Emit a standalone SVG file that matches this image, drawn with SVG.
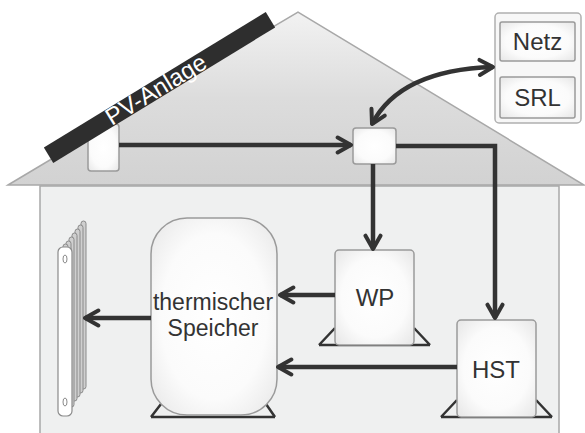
<svg xmlns="http://www.w3.org/2000/svg" width="585" height="433" viewBox="0 0 585 433">
  <defs>
    <linearGradient id="roofFill" x1="0" y1="0" x2="0" y2="1">
      <stop offset="0" stop-color="#f2f2f2"/>
      <stop offset="0.5" stop-color="#dcdcdc"/>
      <stop offset="1" stop-color="#d2d2d2"/>
    </linearGradient>
    <radialGradient id="boxFill" cx="0.5" cy="0.5" r="0.7">
      <stop offset="0" stop-color="#ffffff"/>
      <stop offset="0.6" stop-color="#fbfbfb"/>
      <stop offset="1" stop-color="#e6e6e6"/>
    </radialGradient>
    <marker id="chev" viewBox="0 0 12 12" refX="10.5" refY="6" markerWidth="20" markerHeight="20" markerUnits="userSpaceOnUse" orient="auto-start-reverse">
      <path d="M2.5,1.5 L10.5,6 L2.5,10.5" fill="none" stroke="#333" stroke-width="2.4" stroke-linecap="round" stroke-linejoin="round"/>
    </marker>
    <style>
      .box { fill: url(#boxFill); stroke: #9a9a9a; stroke-width: 1.5; }
      .foot { fill: none; stroke: #333; stroke-width: 2.5; stroke-linejoin: miter; }
      .wire { fill: none; stroke: #333; stroke-width: 4.5; }
      .lbl { font-family: "Liberation Sans", Arial, sans-serif; fill: #333; text-anchor: middle; font-size: 24px; }
      .plate { fill: #cfcfcf; stroke: #8a8a8a; stroke-width: 1; }
    </style>
  </defs>

  <!-- house body and roof -->
  <g id="house">
    <rect x="40" y="186" width="519" height="260" fill="#eff0f0" stroke="#a8a8a8" stroke-width="1.5"/>
    <polygon points="8,185 298,12 584,185" fill="url(#roofFill)" stroke="#a8a8a8" stroke-width="1.5"/>
  </g>

  <!-- PV inverter box under the panel -->
  <g id="pv-box">
    <rect class="box" x="88" y="124" width="31" height="47" rx="3"/>
  </g>

  <!-- PV panel -->
  <g id="pv-panel">
    <g transform="translate(159.5,87.5) rotate(-31.4)">
      <rect x="-130" y="-9" width="260" height="18" fill="#2e2e2e"/>
      <text class="lbl" x="-4" y="8" style="fill:#ffffff">PV-Anlage</text>
    </g>
  </g>

  <!-- grid / control reserve -->
  <g id="netz-srl">
    <rect x="495" y="13" width="86" height="110" rx="4" fill="#f7f7f7" stroke="#b0b0b0" stroke-width="1.5"/>
    <rect class="box" x="500" y="22" width="75" height="39" rx="2"/>
    <text class="lbl" x="537.5" y="50">Netz</text>
    <rect class="box" x="500" y="77" width="75" height="41" rx="2"/>
    <text class="lbl" x="537.5" y="106">SRL</text>
  </g>

  <!-- central distribution box -->
  <g id="verteiler">
    <rect class="box" x="353" y="128" width="43" height="36" rx="3"/>
  </g>

  <!-- heat pump -->
  <g id="wp">
    <path class="foot" d="M319,345 L335,328 M414,328 L430,345 M319,345 L430,345"/>
    <rect class="box" x="335" y="250" width="79" height="95" rx="4"/>
    <text class="lbl" x="375" y="306">WP</text>
  </g>

  <!-- electric heating element -->
  <g id="hst">
    <path class="foot" d="M441,417 L457,400 M536,400 L552,417 M441,417 L552,417"/>
    <rect class="box" x="457" y="320" width="79" height="97" rx="4"/>
    <text class="lbl" x="496" y="378">HST</text>
  </g>

  <!-- thermal storage -->
  <g id="speicher">
    <path class="foot" d="M151,417 L161,404 M266,404 L275,417 M151,417 L275,417"/>
    <rect class="box" x="151" y="218" width="126" height="197" rx="36"/>
    <text class="lbl" x="213" y="310" style="font-size:23px">thermischer</text>
    <text class="lbl" x="213" y="336" style="font-size:23px">Speicher</text>
  </g>

  <!-- radiator -->
  <g id="heizkoerper">
    <rect class="plate" x="81" y="221" width="5" height="168" rx="2.5"/>
    <rect class="plate" x="78" y="225" width="5" height="168" rx="2.5"/>
    <rect class="plate" x="75" y="229" width="5" height="168" rx="2.5"/>
    <rect class="plate" x="72" y="233" width="5" height="168" rx="2.5"/>
    <rect class="plate" x="69" y="237" width="5" height="170" rx="2.5"/>
    <rect class="plate" x="66" y="241" width="5" height="170" rx="2.5"/>
    <rect class="plate" x="63" y="244" width="5" height="170" rx="2.5"/>
    <rect x="58" y="247" width="14" height="169" rx="5" fill="#ffffff" stroke="#8a8a8a" stroke-width="1.2"/>
    <ellipse cx="65" cy="259" rx="2" ry="4" fill="none" stroke="#8a8a8a" stroke-width="1"/>
    <ellipse cx="65" cy="402" rx="2" ry="4" fill="none" stroke="#8a8a8a" stroke-width="1"/>
  </g>

  <!-- energy flows -->
  <g id="connectors">
    <path class="wire" d="M119,145 H351" marker-end="url(#chev)"/>
    <path class="wire" d="M373,164 V249" marker-end="url(#chev)"/>
    <path class="wire" d="M396,146 H495 V318" marker-end="url(#chev)"/>
    <path class="wire" d="M372,124 Q400,70 493,67" marker-start="url(#chev)" marker-end="url(#chev)"/>
    <path class="wire" d="M335,295 H280" marker-end="url(#chev)"/>
    <path class="wire" d="M457,367 H278" marker-end="url(#chev)"/>
    <path class="wire" d="M151,318 H85" marker-end="url(#chev)"/>
  </g>
</svg>
